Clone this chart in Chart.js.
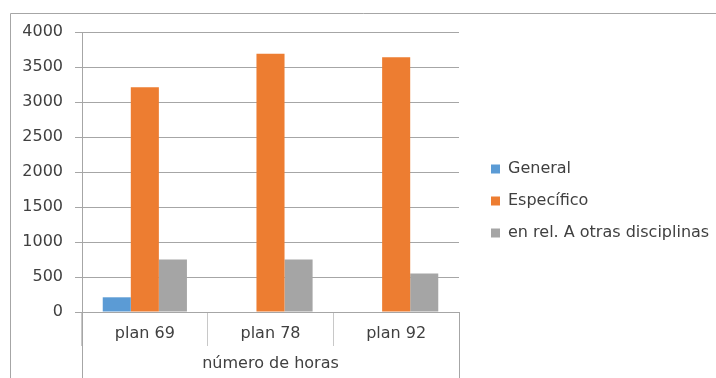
<!DOCTYPE html>
<html>
<head>
<meta charset="utf-8">
<script src="https://cdn.jsdelivr.net/npm/chart.js@4.4.0/dist/chart.umd.min.js"></script>
<style>
  html, body { margin: 0; padding: 0; background: #fff; overflow: hidden; }
  #wrap { position: relative; width: 716px; height: 378px; }
</style>
</head>
<body>
<div id="wrap"><canvas id="horas"></canvas></div>
<script>
var planes = ['plan 69', 'plan 78', 'plan 92'];
var general = [210, 0, 0];
var especifico = [3210, 3690, 3640];
var otrasDisciplinas = [750, 750, 550];
var yTicks = [0, 500, 1000, 1500, 2000, 2500, 3000, 3500, 4000];

var lineGray = '#a6a6a6';
var textGray = '#404040';
var fontFam = '"DejaVu Sans", sans-serif';

// outer frame and the long group lines under the x axis
var frameLines = {
  id: 'frameLines',
  beforeDraw: function(chart) {
    var c = chart.ctx;
    c.save();
    c.strokeStyle = lineGray;
    c.lineWidth = 1;
    c.beginPath();
    c.moveTo(10.5, chart.height);
    c.lineTo(10.5, 13.5);
    c.lineTo(chart.width, 13.5);
    c.stroke();
    c.restore();
  },
  afterDraw: function(chart) {
    var x = chart.scales.x, c = chart.ctx;
    c.save();
    c.strokeStyle = lineGray;
    c.lineWidth = 1;
    c.beginPath();
    [x.left, x.right].forEach(function(px) {
      px = Math.round(px) + 0.5;
      c.moveTo(px, chart.chartArea.bottom);
      c.lineTo(px, chart.height);
    });
    c.stroke();
    c.restore();
  }
};

// give the legend room to the right edge and lift it a little
var legendNudge = {
  id: 'legendNudge',
  afterLayout: function(chart) {
    var lg = chart.legend;
    lg.left = chart.chartArea.right + 16;
    lg.right = chart.width;
    lg.width = lg.right - lg.left;
    lg.top -= 4; lg.bottom -= 4;
  }
};

var ctx = document.getElementById('horas').getContext('2d');
new Chart(ctx, {
  type: 'bar',
  data: {
    labels: planes,
    datasets: [
      { label: 'General', data: general, backgroundColor: '#5b9bd5' },
      { label: 'Específico', data: especifico, backgroundColor: '#ed7d31' },
      { label: 'en rel. A otras disciplinas', data: otrasDisciplinas, backgroundColor: '#a5a5a5' }
    ]
  },
  options: {
    responsive: true,
    maintainAspectRatio: false,
    animation: false,
    categoryPercentage: 0.67,
    barPercentage: 1.0,
    layout: { padding: { top: 32, right: 104, bottom: 0, left: 0 } },
    scales: {
      x: {
        afterFit: function(scale) { scale.height = 66; },
        grid: {
          offset: true,
          drawOnChartArea: false,
          tickLength: 34,
          color: '#c8c8c8'
        },
        border: { color: lineGray },
        ticks: {
          padding: -22,
          color: textGray,
          font: { family: fontFam, size: 16 }
        },
        title: {
          display: true,
          text: 'número de horas',
          color: textGray,
          padding: { top: 0, bottom: 5 },
          font: { family: fontFam, size: 16 }
        }
      },
      y: {
        min: 0,
        max: 4000,
        afterFit: function(scale) { scale.width = 82; },
        afterBuildTicks: function(scale) {
          scale.ticks = yTicks.map(function(v) { return { value: v }; });
        },
        grid: { color: lineGray, tickLength: 7 },
        border: { color: lineGray },
        ticks: {
          padding: 12,
          color: textGray,
          font: { family: fontFam, size: 16 },
          callback: function(v) { return String(v); }
        }
      }
    },
    plugins: {
      legend: {
        position: 'right',
        labels: {
          boxWidth: 9,
          boxHeight: 9,
          padding: 16,
          color: textGray,
          font: { family: fontFam, size: 16 }
        }
      },
      tooltip: { enabled: false }
    }
  },
  plugins: [frameLines, legendNudge]
});
</script>
</body>
</html>
